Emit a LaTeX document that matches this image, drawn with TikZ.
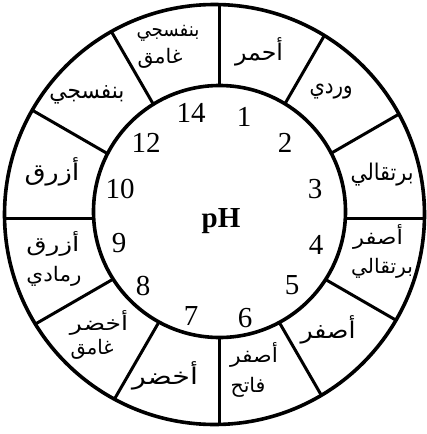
\documentclass[tikz,border=0pt]{standalone}
\usepackage{fontspec}
\usepackage{graphicx}
\setmainfont{Liberation Serif}
\newfontfamily\arabicfont[Script=Arabic]{DejaVu Sans}
\newfontfamily\numfont{Liberation Serif}
\TeXXeTstate=1
\newcommand\arw[2]{\resizebox{#1pt}{\height}{\beginR #2\endR}}
\begin{document}
\begin{tikzpicture}[x=1pt,y=-1pt,
  ring/.style={line width=3.6pt},
  divider/.style={line width=3pt},
  arbig/.style={font=\arabicfont\fontsize{23}{26}\selectfont, inner sep=0pt, anchor=center},
  arsmall/.style={font=\arabicfont\fontsize{20}{23}\selectfont, inner sep=0pt, anchor=center},
  num/.style={font=\numfont\fontsize{29}{30}\selectfont, anchor=base, inner sep=0pt},
  phlabel/.style={font=\numfont\bfseries\fontsize{29}{30}\selectfont, anchor=base, inner sep=0pt}]
\useasboundingbox (0,0) rectangle (427,434);
\fill[white] (0,0) rectangle (427,434);
\coordinate (O) at (214.5,214.5);
\coordinate (I) at (219.5,211.5);
\coordinate (D) at (219,218);
% dividers
\begin{scope}
  \clip (O) circle (210);
  \foreach \a in {0,30,...,330} {
    \draw[divider] (D) -- ++(\a:260);
  }
\end{scope}
\fill[white] (I) circle (126);
\draw[ring] (O) circle (210);
\draw[ring] (I) circle (126);
% numbers
\node[num] (n14) at (191,122) {14};
\node[num] (n1) at (244,126) {1};
\node[num] (n2) at (285,152) {2};
\node[num] (n3) at (315,198) {3};
\node[num] (n4) at (316,254) {4};
\node[num] (n5) at (292,294) {5};
\node[num] (n6) at (245,327) {6};
\node[num] (n7) at (191,325) {7};
\node[num] (n8) at (143,295) {8};
\node[num] (n9) at (119,252) {9};
\node[num] (n10) at (120,198) {10};
\node[num] (n12) at (146,152) {12};
\node[phlabel] (ph) at (221,227) {pH};
% colour names
\node[arsmall] (c14a) at (168,33) {\arw{63}{بنفسجي}};
\node[arsmall] (c14b) at (160,58) {\arw{45}{غامق}};
\node[arbig] (c1) at (259,52) {\arw{48}{أحمر}};
\node[arbig] (c2) at (331,92) {\arw{43}{وردي}};
\node[arbig] (c3) at (382,175) {\arw{63}{برتقالي}};
\node[arsmall] (c4a) at (378,237) {\arw{50}{أصفر}};
\node[arsmall] (c4b) at (382,268) {\arw{62}{برتقالي}};
\node[arbig] (c5) at (328,330) {\arw{55}{أصفر}};
\node[arsmall] (c6a) at (254,355) {\arw{48}{أصفر}};
\node[arsmall] (c6b) at (248,387) {\arw{35}{فاتح}};
\node[arbig] (c7) at (165,376) {\arw{66}{أخضر}};
\node[arsmall] (c8a) at (99,323) {\arw{58}{أخضر}};
\node[arsmall] (c8b) at (92,349) {\arw{43}{غامق}};
\node[arsmall] (c9a) at (53,244) {\arw{53}{أزرق}};
\node[arsmall] (c9b) at (54,276) {\arw{55}{رمادي}};
\node[arbig] (c10) at (52,172) {\arw{55}{أزرق}};
\node[arbig] (c12) at (87,95) {\arw{75}{بنفسجي}};
\end{tikzpicture}
\end{document}
